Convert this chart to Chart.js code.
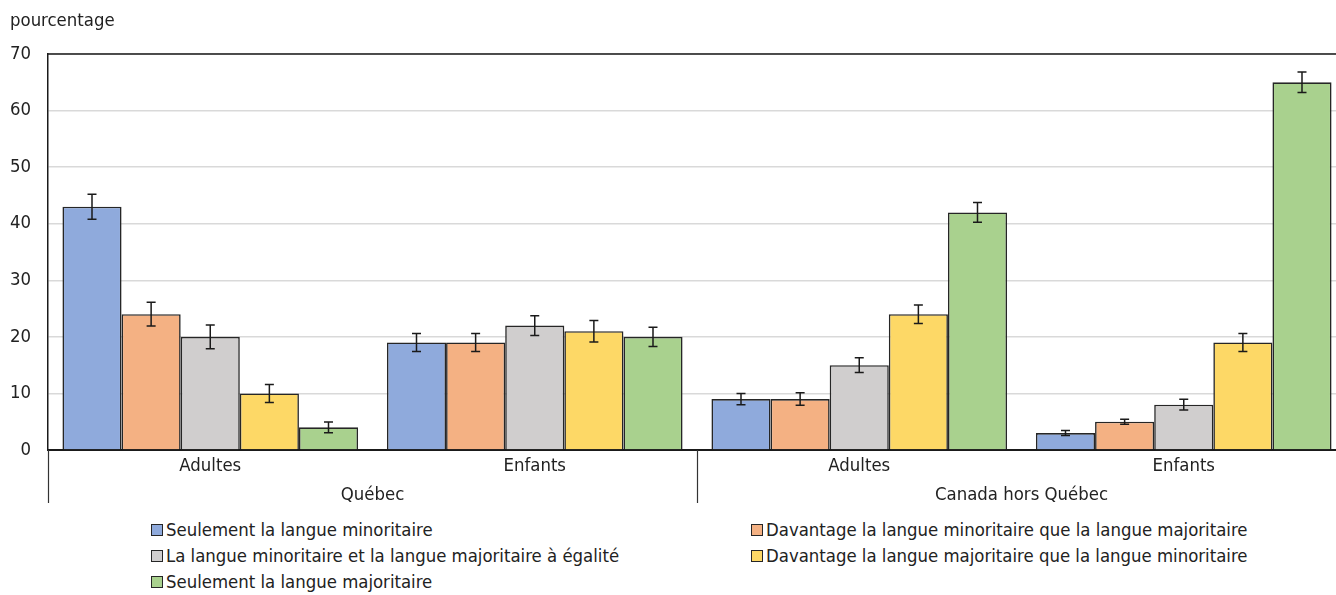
<!DOCTYPE html>
<html lang="fr">
<head>
<meta charset="utf-8">
<script src="https://cdn.jsdelivr.net/npm/chart.js@4.4.1/dist/chart.umd.min.js"></script>
<style>
  html, body { margin: 0; padding: 0; background: #fff; overflow: hidden; }
  body { width: 1336px; height: 595px; position: relative; }
  #wrap { position: absolute; left: 0; top: 0; width: 1346px; height: 515px; }
  .legend { position: absolute; top: 517px; font-family: 'Liberation Sans Narrow','DejaVu Sans Condensed','Roboto Condensed','Arial Narrow',Roboto,sans-serif; font-size: 18.4px; color: #222; }
  .legend div { height: 26px; line-height: 26px; white-space: nowrap; display: flex; align-items: center; }
  .legend span.sw { display: inline-block; width: 10px; height: 10px; border: 1.5px solid #262626; margin-right: 3px; }
</style>
</head>
<body>
<div id="wrap"><canvas id="c" width="1346" height="515"></canvas></div>
<div class="legend" id="legL" style="left:151px"></div>
<div class="legend" id="legR" style="left:751px"></div>
<script>
const FONT = "'Liberation Sans Narrow','DejaVu Sans Condensed','Roboto Condensed','Arial Narrow',Roboto,sans-serif";
const FSIZE = 18.4;

// Sub-categories and their parent regions
const subLabels = ['Adultes', 'Enfants', 'Adultes', 'Enfants'];
const regions = ['Québec', 'Canada hors Québec'];
const yTicks = [0, 10, 20, 30, 40, 50, 60, 70];

const seriesNames = [
  'Seulement la langue minoritaire',
  'Davantage la langue minoritaire que la langue majoritaire',
  'La langue minoritaire et la langue majoritaire à égalité',
  'Davantage la langue majoritaire que la langue minoritaire',
  'Seulement la langue majoritaire'
];
const seriesColors = ['#8faadc', '#f4b183', '#d0cece', '#fdd866', '#a9d18e'];

// Percentages per series (Québec adultes, Québec enfants, hors Québec adultes, hors Québec enfants)
const seulMinoritaire   = [43, 19, 9, 3];
const davMinoritaire    = [24, 19, 9, 5];
const egalite           = [20, 22, 15, 8];
const davMajoritaire    = [10, 21, 24, 19];
const seulMajoritaire   = [4, 20, 42, 65];

// Confidence-interval half widths
const errSeulMinoritaire = [2.2, 1.6, 1.0, 0.45];
const errDavMinoritaire  = [2.1, 1.6, 1.1, 0.45];
const errEgalite         = [2.1, 1.75, 1.3, 0.95];
const errDavMajoritaire  = [1.6, 1.9, 1.65, 1.6];
const errSeulMajoritaire = [0.95, 1.7, 1.75, 1.8];

const values = [seulMinoritaire, davMinoritaire, egalite, davMajoritaire, seulMajoritaire];
const errors = [errSeulMinoritaire, errDavMinoritaire, errEgalite, errDavMajoritaire, errSeulMajoritaire];

const datasets = values.map((v, i) => ({
  label: seriesNames[i],
  data: v,
  errors: errors[i],
  backgroundColor: seriesColors[i],
  borderColor: '#262626',
  borderWidth: 1.6,
  borderSkipped: 'bottom',
  barPercentage: 1.0,
  categoryPercentage: 0.911
}));

// Error bars drawn on top of every bar
const errorBars = {
  id: 'errorBars',
  afterDatasetsDraw(chart) {
    const ctx = chart.ctx, y = chart.scales.y;
    ctx.save();
    ctx.strokeStyle = '#1a1a1a';
    ctx.lineWidth = 1.5;
    chart.data.datasets.forEach((ds, di) => {
      const meta = chart.getDatasetMeta(di);
      meta.data.forEach((bar, i) => {
        const v = ds.data[i], e = ds.errors[i];
        const yt = y.getPixelForValue(v + e), yb = y.getPixelForValue(v - e);
        const x = bar.x, w = 4.5;
        ctx.beginPath();
        ctx.moveTo(x, yt); ctx.lineTo(x, yb);
        ctx.moveTo(x - w, yt); ctx.lineTo(x + w, yt);
        ctx.moveTo(x - w, yb); ctx.lineTo(x + w, yb);
        ctx.stroke();
      });
    });
    ctx.restore();
  }
};

// Frame top line, axis unit label, region labels and separators
const frame = {
  id: 'frame',
  afterDraw(chart) {
    const ctx = chart.ctx, a = chart.chartArea;
    ctx.save();
    ctx.strokeStyle = '#1a1a1a';
    ctx.lineWidth = 1.5;
    ctx.beginPath();
    ctx.moveTo(a.left, a.top); ctx.lineTo(a.right, a.top);
    ctx.stroke();
    // separators below the axis
    ctx.lineWidth = 1.2;
    ctx.strokeStyle = '#333';
    const step = (a.right - a.left) / subLabels.length;
    [0, 2, 4].forEach(k => {
      const px = Math.round(a.left + k * step) + 0.5;
      ctx.beginPath();
      ctx.moveTo(px, a.bottom); ctx.lineTo(px, a.bottom + 53);
      ctx.stroke();
    });
    ctx.fillStyle = '#222';
    ctx.font = FSIZE + 'px ' + FONT;
    ctx.textAlign = 'center';
    ctx.textBaseline = 'middle';
    regions.forEach((r, k) => {
      const cx = a.left + (2 * k + 1) * step;
      ctx.fillText(r, cx, a.bottom + 45);
    });
    ctx.textAlign = 'left';
    ctx.fillText('pourcentage', 10, 21);
    ctx.restore();
  }
};

new Chart(document.getElementById('c'), {
  type: 'bar',
  data: { labels: subLabels, datasets },
  options: {
    responsive: false,
    animation: false,
    devicePixelRatio: 1,
    layout: { padding: { top: 54, left: 0, right: 0, bottom: 0 } },
    plugins: { legend: { display: false }, tooltip: { enabled: false } },
    scales: {
      x: {
        grid: { display: false, drawTicks: false },
        border: { display: true, color: '#1a1a1a', width: 2 },
        ticks: { color: '#222', font: { family: FONT, size: FSIZE }, padding: 5 },
        afterFit(s) { s.height = 65; }
      },
      y: {
        min: 0, max: 70,
        afterBuildTicks(s) { s.ticks = yTicks.map(v => ({ value: v })); },
        grid: { color: '#d9d9d9', lineWidth: 1.5, drawTicks: false },
        border: { display: true, color: '#1a1a1a', width: 1.5 },
        ticks: { color: '#222', font: { family: FONT, size: FSIZE }, padding: 17 },
        afterFit(s) { s.width = 48; }
      }
    }
  },
  plugins: [errorBars, frame]
});

// Legend in two columns
const legL = document.getElementById('legL'), legR = document.getElementById('legR');
seriesNames.forEach((n, i) => {
  const row = document.createElement('div');
  const sw = document.createElement('span');
  sw.className = 'sw';
  sw.style.background = seriesColors[i];
  row.appendChild(sw);
  row.appendChild(document.createTextNode(n));
  (i % 2 === 0 ? legL : legR).appendChild(row);
});
</script>
</body>
</html>
